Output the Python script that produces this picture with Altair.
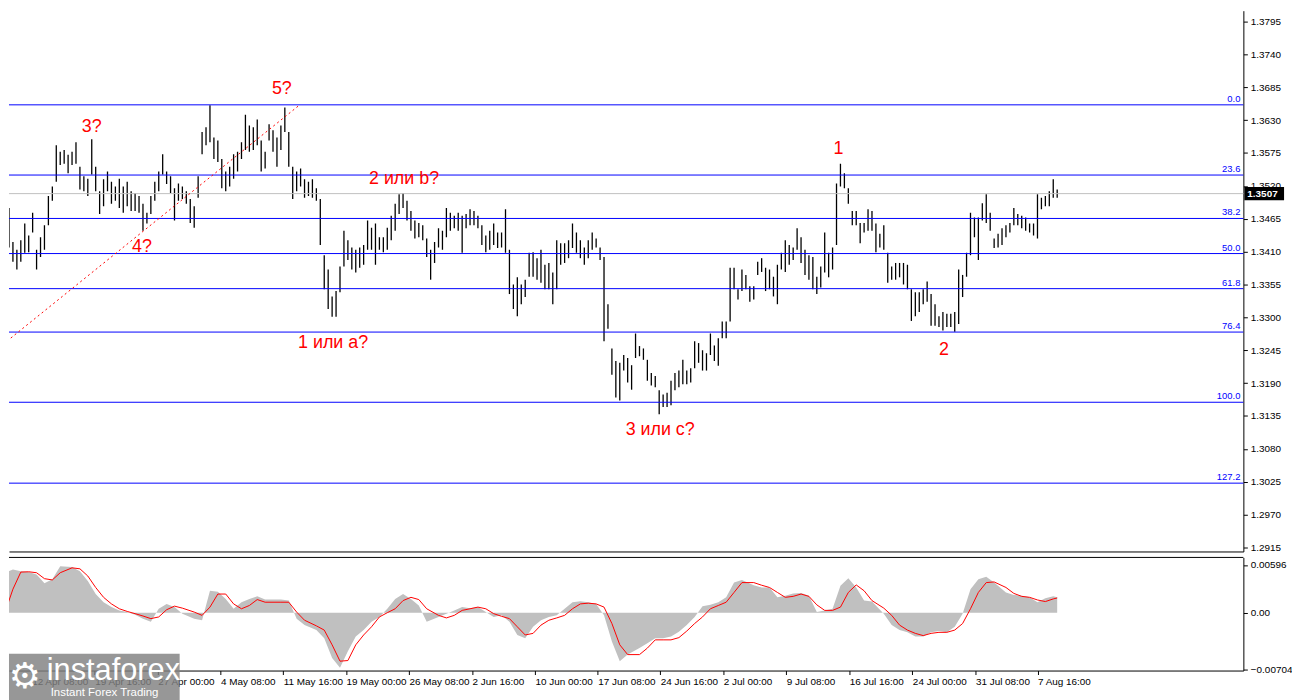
import json
import altair as alt
import pandas as pd

# ---------------- price bars (high / low) ----------------
HIGH = [
    1.3429, 1.3483, 1.3426, 1.3413, 1.3429, 1.3457, 1.3437, 1.3475, 1.3413, 1.3434,
    1.3454, 1.3503, 1.3519, 1.3588, 1.3577, 1.3580, 1.3572, 1.3577, 1.3593, 1.3552,
    1.3536, 1.3532, 1.3598, 1.3552, 1.3511, 1.3531, 1.3544, 1.3527, 1.3519, 1.3532,
    1.3519, 1.3527, 1.3511, 1.3508, 1.3503, 1.3490, 1.3475, 1.3503, 1.3527, 1.3544,
    1.3573, 1.3544, 1.3536, 1.3516, 1.3524, 1.3519, 1.3511, 1.3498, 1.3486, 1.3536,
    1.3610, 1.3618, 1.3655, 1.3601, 1.3596, 1.3565, 1.3544, 1.3552, 1.3573, 1.3577,
    1.3593, 1.3639, 1.3621, 1.3618, 1.3631, 1.3596, 1.3577, 1.3623, 1.3613, 1.3601,
    1.3621, 1.3651, 1.3610, 1.3552, 1.3544, 1.3549, 1.3531, 1.3527, 1.3531, 1.3516,
    1.3498, 1.3404, 1.3380, 1.3335, 1.3344, 1.3385, 1.3445, 1.3429, 1.3417, 1.3413,
    1.3417, 1.3421, 1.3462, 1.3450, 1.3457, 1.3434, 1.3434, 1.3450, 1.3470, 1.3490,
    1.3506, 1.3508, 1.3495, 1.3478, 1.3462, 1.3458, 1.3454, 1.3432, 1.3413, 1.3426,
    1.3449, 1.3445, 1.3483, 1.3475, 1.3470, 1.3475, 1.3470, 1.3473, 1.3481, 1.3478,
    1.3470, 1.3454, 1.3437, 1.3445, 1.3457, 1.3442, 1.3442, 1.3481, 1.3413, 1.3355,
    1.3367, 1.3355, 1.3363, 1.3408, 1.3409, 1.3399, 1.3413, 1.3388, 1.3391, 1.3375,
    1.3429, 1.3424, 1.3424, 1.3429, 1.3457, 1.3442, 1.3429, 1.3417, 1.3429, 1.3442,
    1.3432, 1.3417, 1.3401, 1.3322, 1.3248, 1.3227, 1.3224, 1.3237, 1.3232, 1.3220,
    1.3273, 1.3252, 1.3248, 1.3229, 1.3207, 1.3202, 1.3178, 1.3171, 1.3174, 1.3194,
    1.3207, 1.3211, 1.3229, 1.3211, 1.3215, 1.3260, 1.3257, 1.3245, 1.3240, 1.3273,
    1.3253, 1.3265, 1.3293, 1.3293, 1.3383, 1.3383, 1.3347, 1.3380, 1.3371, 1.3352,
    1.3352, 1.3393, 1.3399, 1.3383, 1.3380, 1.3368, 1.3388, 1.3408, 1.3429, 1.3421,
    1.3417, 1.3449, 1.3434, 1.3413, 1.3404, 1.3401, 1.3368, 1.3385, 1.3442, 1.3408,
    1.3417, 1.3524, 1.3557, 1.3541, 1.3516, 1.3478, 1.3478, 1.3458, 1.3458, 1.3481,
    1.3478, 1.3457, 1.3440, 1.3454, 1.3408, 1.3385, 1.3391, 1.3391, 1.3391, 1.3388,
    1.3347, 1.3342, 1.3342, 1.3347, 1.3360, 1.3339, 1.3322, 1.3302, 1.3309, 1.3306,
    1.3306, 1.3309, 1.3380, 1.3371, 1.3408, 1.3475, 1.3467, 1.3467, 1.3491, 1.3506,
    1.3475, 1.3432, 1.3440, 1.3449, 1.3454, 1.3458, 1.3483, 1.3473, 1.3470, 1.3467,
    1.3457, 1.3457, 1.3506, 1.3500, 1.3503, 1.3511, 1.3531, 1.3514,
]
LOW = [
    1.3385, 1.3417, 1.3393, 1.3380, 1.3393, 1.3408, 1.3409, 1.3442, 1.3380, 1.3401,
    1.3413, 1.3454, 1.3495, 1.3527, 1.3555, 1.3557, 1.3541, 1.3555, 1.3557, 1.3514,
    1.3511, 1.3503, 1.3539, 1.3511, 1.3473, 1.3486, 1.3511, 1.3490, 1.3495, 1.3483,
    1.3475, 1.3486, 1.3478, 1.3478, 1.3475, 1.3445, 1.3457, 1.3473, 1.3495, 1.3511,
    1.3539, 1.3523, 1.3508, 1.3462, 1.3495, 1.3498, 1.3490, 1.3458, 1.3450, 1.3500,
    1.3573, 1.3588, 1.3593, 1.3565, 1.3560, 1.3516, 1.3511, 1.3519, 1.3532, 1.3544,
    1.3565, 1.3580, 1.3577, 1.3580, 1.3588, 1.3544, 1.3549, 1.3596, 1.3577, 1.3552,
    1.3580, 1.3610, 1.3552, 1.3498, 1.3511, 1.3519, 1.3500, 1.3503, 1.3500, 1.3495,
    1.3421, 1.3347, 1.3314, 1.3301, 1.3301, 1.3342, 1.3385, 1.3396, 1.3380, 1.3375,
    1.3383, 1.3388, 1.3413, 1.3413, 1.3388, 1.3413, 1.3409, 1.3413, 1.3429, 1.3445,
    1.3473, 1.3483, 1.3462, 1.3445, 1.3432, 1.3434, 1.3429, 1.3401, 1.3363, 1.3391,
    1.3417, 1.3413, 1.3434, 1.3445, 1.3449, 1.3445, 1.3408, 1.3449, 1.3454, 1.3454,
    1.3449, 1.3421, 1.3409, 1.3413, 1.3421, 1.3416, 1.3417, 1.3408, 1.3339, 1.3314,
    1.3302, 1.3322, 1.3334, 1.3368, 1.3368, 1.3363, 1.3358, 1.3347, 1.3347, 1.3322,
    1.3347, 1.3388, 1.3391, 1.3399, 1.3416, 1.3408, 1.3399, 1.3388, 1.3399, 1.3413,
    1.3417, 1.3396, 1.3260, 1.3281, 1.3204, 1.3166, 1.3161, 1.3211, 1.3191, 1.3179,
    1.3232, 1.3235, 1.3229, 1.3194, 1.3186, 1.3183, 1.3138, 1.3150, 1.3150, 1.3153,
    1.3178, 1.3183, 1.3188, 1.3188, 1.3191, 1.3215, 1.3224, 1.3211, 1.3211, 1.3237,
    1.3227, 1.3219, 1.3265, 1.3265, 1.3293, 1.3347, 1.3330, 1.3344, 1.3347, 1.3326,
    1.3330, 1.3371, 1.3376, 1.3344, 1.3347, 1.3335, 1.3322, 1.3380, 1.3376, 1.3388,
    1.3396, 1.3413, 1.3391, 1.3371, 1.3363, 1.3347, 1.3339, 1.3350, 1.3375, 1.3367,
    1.3380, 1.3421, 1.3519, 1.3516, 1.3490, 1.3454, 1.3454, 1.3424, 1.3442, 1.3445,
    1.3445, 1.3409, 1.3417, 1.3413, 1.3358, 1.3363, 1.3363, 1.3367, 1.3355, 1.3347,
    1.3294, 1.3302, 1.3309, 1.3322, 1.3326, 1.3286, 1.3286, 1.3284, 1.3278, 1.3284,
    1.3284, 1.3276, 1.3289, 1.3334, 1.3368, 1.3404, 1.3434, 1.3396, 1.3462, 1.3458,
    1.3445, 1.3416, 1.3417, 1.3421, 1.3434, 1.3442, 1.3454, 1.3454, 1.3449, 1.3445,
    1.3442, 1.3437, 1.3432, 1.3481, 1.3486, 1.3486, 1.3500, 1.3500,
]
LAST_PRICE = 1.3507

# ---------------- Fibonacci grid ----------------
FIB_NAMES = ["0.0", "23.6", "38.2", "50.0", "61.8", "76.4", "100.0", "127.2"]
FIB_RATIOS = [0.0, 0.236, 0.382, 0.5, 0.618, 0.764, 1.0, 1.272]
FIB_HIGH = 1.36555
FIB_LOW = 1.3158

# ---------------- dotted trend line (bar index, price) ----------------
TREND_BAR = [-0.5, 74.5]
TREND_PRICE = [1.3255, 1.3654]

# ---------------- wave labels ----------------
WAVE_TEXT = ["3?", "4?", "5?", "1 или a?", "2 или b?", "3 или c?", "1", "2"]
WAVE_BAR = [22.0, 34.75, 70.25, 83.25, 101.25, 166.25, 211.5, 238.25]
WAVE_PRICE = [1.3619, 1.3417, 1.3682, 1.3257, 1.3532, 1.3112, 1.3582, 1.3245]

# ---------------- axes ----------------
Y_TICKS = [1.2915, 1.2970, 1.3025, 1.3080, 1.3135, 1.3190, 1.3245, 1.3300, 1.3355,
           1.3410, 1.3465, 1.3520, 1.3575, 1.3630, 1.3685, 1.3740, 1.3795]
TICK_BARS = [6.75, 22.75, 38.75, 54.7, 70.6, 86.5, 102.5, 118.5, 134.5, 150.4,
             166.25, 182.25, 198.25, 214.25, 230.25, 246.25, 262.0]
TICK_LABELS = ["12 Apr 08:00", "19 Apr 16:00", "27 Apr 00:00", "4 May 08:00", "11 May 16:00",
               "19 May 00:00", "26 May 08:00", "2 Jun 16:00", "10 Jun 00:00", "17 Jun 08:00",
               "24 Jun 16:00", "2 Jul 00:00", "9 Jul 08:00", "16 Jul 16:00", "24 Jul 00:00",
               "31 Jul 08:00", "7 Aug 16:00"]
MACD_TICKS = [0.00596, 0.0, -0.00704]

# ---------------- MACD (histogram + signal) ----------------
MACD_BAR = [0, 2, 4, 6, 8, 10, 12, 14, 17, 19, 21, 23, 25, 27, 29, 31, 33, 35, 37, 39,
            41, 43, 45, 48, 50, 52, 54, 56, 58, 60, 62, 64, 66, 68, 70, 72, 74, 76, 79, 81,
            83, 85, 87, 89, 91, 93, 95, 97, 99, 101, 103, 105, 107, 110, 112, 114, 116, 118,
            120, 122, 124, 126, 128, 130, 132,
            134, 136, 138, 140, 142, 144, 146, 148, 150, 152, 154, 156, 158, 161, 163, 165,
            167, 169, 171, 173, 175, 177, 179, 181, 183, 185, 187, 190, 192, 194, 196, 198,
            200, 202, 204, 206, 208, 210, 212, 214, 216, 218, 220, 223, 225, 227, 229, 231,
            233, 235, 237, 239, 241, 243, 245, 247, 249, 251, 254, 256, 258, 260, 262, 264,
            266, 267]
MACD_HIST = [
    0.00499, 0.00540, 0.00519, 0.00507, 0.00478, 0.00368, 0.00417, 0.00581, 0.00572, 0.00519,
    0.00397, 0.00233, 0.00131, 0.00070, 0.00029, 0.00008, -0.00025, -0.00074, -0.00114, 0.00049,
    0.00110, 0.00070, -0.00012, -0.00074, -0.00094, 0.00274, 0.00262, 0.00172, 0.00049, 0.00131,
    0.00172, 0.00204, 0.00164, 0.00164, 0.00164, 0.00151, -0.00074, -0.00155, -0.00217, -0.00319,
    -0.00564, -0.00687, -0.00482, -0.00298, -0.00217, -0.00114, -0.00053, 0.00049, 0.00172, 0.00233,
    0.00172, 0.00090, -0.00114, -0.00053, -0.00012, 0.00029, 0.00070, 0.00057, 0.00070, 0.00008,
    -0.00053, -0.00033, -0.00114, -0.00278, -0.00319,
    -0.00176, -0.00094, -0.00053, -0.00033, 0.00049, 0.00131, 0.00143, 0.00131, 0.00110, -0.00033,
    -0.00360, -0.00605, -0.00523, -0.00442, -0.00380, -0.00319, -0.00319, -0.00298, -0.00237, -0.00155,
    -0.00053, 0.00082, 0.00098, 0.00131, 0.00192, 0.00376, 0.00409, 0.00343, 0.00315, 0.00315,
    0.00192, 0.00213, 0.00241, 0.00245, 0.00213, 0.00008, 0.00029, 0.00049, 0.00335, 0.00429,
    0.00315, 0.00151, 0.00139, -0.00012, -0.00155, -0.00217, -0.00245, -0.00298, -0.00298, -0.00245,
    -0.00229, -0.00245, -0.00176, -0.00012, 0.00294, 0.00417, 0.00450, 0.00376, 0.00253, 0.00221,
    0.00213, 0.00192, 0.00131, 0.00180, 0.00204, 0.00192,
]
MACD_SIGNAL = [
    0.00008, 0.00294, 0.00507, 0.00511, 0.00499, 0.00425, 0.00409, 0.00499, 0.00560, 0.00548,
    0.00458, 0.00315, 0.00192, 0.00110, 0.00049, 0.00016, -0.00012, -0.00041, -0.00074, -0.00053,
    0.00037, 0.00082, 0.00057, 0.00008, -0.00033, 0.00070, 0.00233, 0.00233, 0.00110, 0.00049,
    0.00090, 0.00164, 0.00131, 0.00131, 0.00131, 0.00131, 0.00008, -0.00094, -0.00164, -0.00217,
    -0.00401, -0.00605, -0.00597, -0.00401, -0.00278, -0.00176, -0.00053, 0.0, 0.00049, 0.00151,
    0.00192, 0.00164, 0.00049, -0.00033, -0.00065, -0.00033, 0.00029, 0.00049, 0.00070, 0.00049,
    -0.00012, -0.00045, -0.00074, -0.00176, -0.00278,
    -0.00258, -0.00155, -0.00094, -0.00065, -0.00033, 0.00049, 0.00110, 0.00119, 0.00110, 0.00070,
    -0.00135, -0.00401, -0.00523, -0.00523, -0.00442, -0.00339, -0.00339, -0.00339, -0.00311, -0.00229,
    -0.00135, -0.00053, 0.00049, 0.00090, 0.00131, 0.00253, 0.00376, 0.00376, 0.00343, 0.00315,
    0.00253, 0.00192, 0.00204, 0.00233, 0.00204, 0.00098, 0.00029, 0.00029, 0.00070, 0.00253,
    0.00347, 0.00274, 0.00151, 0.00057, -0.00033, -0.00155, -0.00217, -0.00258, -0.00286, -0.00258,
    -0.00245, -0.00245, -0.00217, -0.00135, 0.00049, 0.00253, 0.00376, 0.00384, 0.00315, 0.00241,
    0.00204, 0.00192, 0.00159, 0.00139, 0.00172, 0.00184,
]

LOGO_TITLE = "instaforex"
LOGO_SUB = "Instant Forex Trading"

# ---------------- layout ----------------
W, H1, H2 = 1244, 545, 114
FONT = "Liberation Sans"
x_scale = alt.Scale(domain=[1.0, 314.25], nice=False, zero=False)
y_scale = alt.Scale(domain=[1.29084, 1.3813], nice=False, zero=False)
m_scale = alt.Scale(domain=[-0.00722, 0.0069], nice=False, zero=False)

bars_df = pd.DataFrame({"bar": list(range(len(HIGH))), "high": HIGH, "low": LOW})
fib_df = pd.DataFrame({"name": FIB_NAMES,
                       "level": [FIB_HIGH - r * (FIB_HIGH - FIB_LOW) for r in FIB_RATIOS]})
trend_df = pd.DataFrame({"bar": TREND_BAR, "price": TREND_PRICE})
wave_df = pd.DataFrame({"bar": WAVE_BAR, "price": WAVE_PRICE, "text": WAVE_TEXT})
last_df = pd.DataFrame({"price": [LAST_PRICE], "label": [f"{LAST_PRICE:.4f}"]})
macd_df = pd.DataFrame({"bar": MACD_BAR, "hist": MACD_HIST, "signal": MACD_SIGNAL})
logo_df = pd.DataFrame({"title": [LOGO_TITLE], "sub": [LOGO_SUB], "gear": ["\u2699"]})

x_axis_main = alt.Axis(title=None, labels=False, ticks=False, grid=False,
                       domain=True, domainColor="black", domainWidth=1)
y_axis = alt.Axis(title=None, orient="right", values=Y_TICKS, format=".4f", grid=False,
                  tickSize=4, labelPadding=3, domainColor="black", tickColor="black",
                  labelColor="black", labelFont=FONT, labelFontSize=10)


def X(field):
    return alt.X(field, scale=x_scale, axis=x_axis_main)


def Y(field):
    return alt.Y(field, scale=y_scale, axis=y_axis)


bars = alt.Chart(bars_df).mark_rule(color="black", strokeWidth=1.3, clip=True).encode(
    x=X("bar:Q"), y=Y("low:Q"), y2="high:Q")
fib_lines = alt.Chart(fib_df).mark_rule(color="#0000FF", strokeWidth=1).encode(y=Y("level:Q"))
fib_text = alt.Chart(fib_df).mark_text(color="#0000FF", align="right", baseline="bottom", dy=-1,
                                       fontSize=9.5, font=FONT).encode(
    x=alt.value(W - 3), y=Y("level:Q"), text="name:N")
last_line = alt.Chart(last_df).mark_rule(color="#C0C0C0", strokeWidth=1).encode(y=Y("price:Q"))
trend = alt.Chart(trend_df).mark_line(color="#FF0000", strokeDash=[2, 3], strokeWidth=1,
                                      clip=True).encode(x=X("bar:Q"), y=Y("price:Q"))
waves = alt.Chart(wave_df).mark_text(color="#FF0000", fontSize=18, font=FONT).encode(
    x=X("bar:Q"), y=Y("price:Q"), text="text:N")
badge = alt.Chart(last_df).transform_calculate(
    top="datum.price + 0.0011", bottom="datum.price - 0.0011"
).mark_rect(color="black").encode(
    x=alt.value(W + 1), x2=alt.value(W + 41), y=Y("top:Q"), y2="bottom:Q")
badge_text = alt.Chart(last_df).mark_text(color="white", fontWeight="bold", align="left",
                                          fontSize=10, font=FONT).encode(
    x=alt.value(W + 4), y=Y("price:Q"), text="label:N")

main = alt.layer(bars, fib_lines, last_line, trend, fib_text, waves, badge, badge_text).properties(
    width=W, height=H1)

label_expr = (f"{json.dumps(TICK_LABELS, ensure_ascii=False)}"
              f"[indexof({json.dumps(TICK_BARS)}, datum.value)]")
x_axis_macd = alt.Axis(title=None, values=TICK_BARS, labelExpr=label_expr, labelAlign="left",
                       labelPadding=2, tickSize=4, grid=False, domainColor="black",
                       tickColor="black", labelColor="black", labelFont=FONT,
                       labelFontSize=10, labelFlush=False, labelOverlap=False)
m_axis = alt.Axis(title=None, orient="right", values=MACD_TICKS, grid=False, tickSize=4,
                  labelPadding=3, domainColor="black", tickColor="black", labelColor="black",
                  labelFont=FONT, labelFontSize=10,
                  labelExpr="datum.value == 0 ? '0.00' : format(datum.value, '.5f')")


def MX(field):
    return alt.X(field, scale=x_scale, axis=x_axis_macd)


def MY(field):
    return alt.Y(field, scale=m_scale, axis=m_axis)


hist = alt.Chart(macd_df).mark_area(color="#C0C0C0", clip=True).encode(
    x=MX("bar:Q"), y=MY("hist:Q"), y2=alt.datum(0))
sig = alt.Chart(macd_df).mark_line(color="#FF0000", strokeWidth=1, clip=True).encode(
    x=MX("bar:Q"), y=MY("signal:Q"))
top_border = alt.Chart(logo_df).mark_rule(color="black", strokeWidth=1).encode(y=alt.value(0))
logo_box = alt.Chart(logo_df).mark_rect(color="#808080", opacity=0.82).encode(
    x=alt.value(0), x2=alt.value(172), y=alt.value(97), y2=alt.value(144))
logo_gear = alt.Chart(logo_df).mark_text(color="white", fontSize=36, font="DejaVu Sans",
                                         align="center", baseline="middle").encode(
    x=alt.value(16), y=alt.value(121), text="gear:N")
logo_title = alt.Chart(logo_df).mark_text(color="white", fontSize=31, font=FONT, align="left",
                                          baseline="alphabetic").encode(
    x=alt.value(38), y=alt.value(124), text="title:N")
logo_sub = alt.Chart(logo_df).mark_text(color="white", fontSize=11.5, font=FONT, align="left",
                                        baseline="alphabetic").encode(
    x=alt.value(42), y=alt.value(140), text="sub:N")

macd = alt.layer(hist, sig, top_border, logo_box, logo_gear, logo_title, logo_sub).properties(
    width=W, height=H2)

chart = alt.vconcat(main, macd, spacing=3).properties(
    padding=0, background="white"
).configure_view(stroke=None)

chart.save("out.html", embed_options={"renderer": "svg", "actions": False})
